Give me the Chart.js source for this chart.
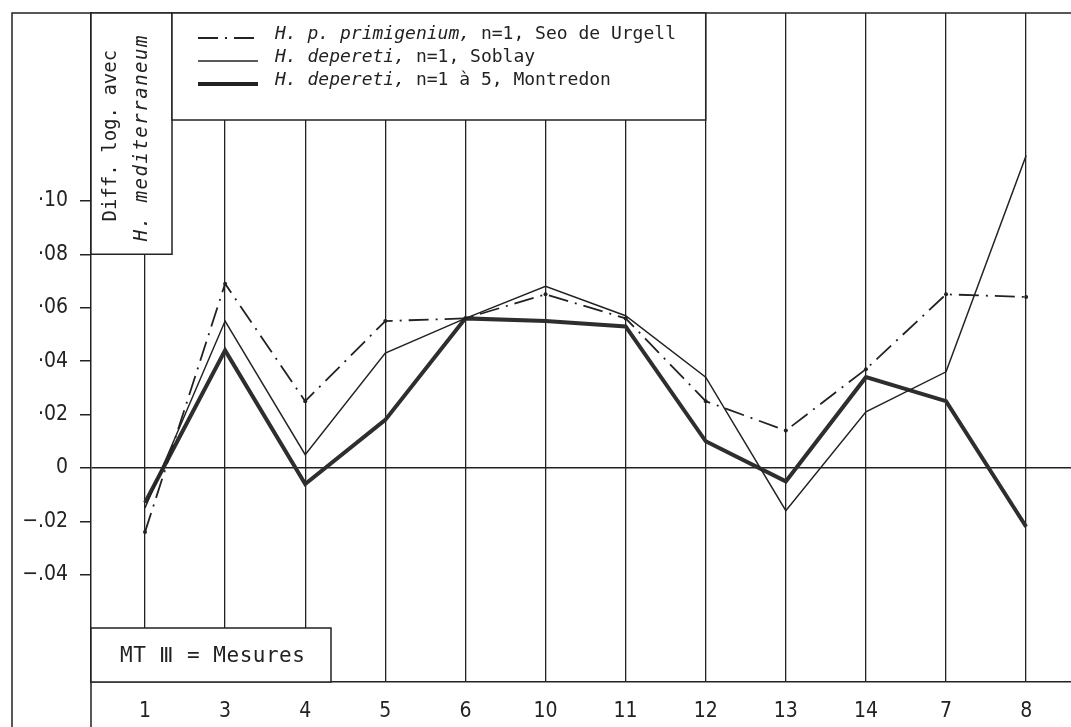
<!DOCTYPE html>
<html>
<head>
<meta charset="utf-8">
<script src="https://cdn.jsdelivr.net/npm/chart.js@4"></script>
<style>
  html, body { margin: 0; padding: 0; background: #fff; }
  #wrap { width: 1071px; height: 727px; }
</style>
</head>
<body>
<div id="wrap"><canvas id="chart" width="1071" height="727"></canvas></div>
<script>
// MT III measurements, in the order they are plotted
const categories = ['1', '3', '4', '5', '6', '10', '11', '12', '13', '14', '7', '8'];

// log difference against H. mediterraneum
const seoUrgell = [-0.024, 0.069, 0.025, 0.055, 0.056, 0.065, 0.056, 0.025, 0.014, 0.037, 0.065, 0.064];
const soblay = [-0.015, 0.055, 0.005, 0.043, 0.056, 0.068, 0.057, 0.034, -0.016, 0.021, 0.036, 0.117];
const montredon = [-0.013, 0.044, -0.006, 0.018, 0.056, 0.055, 0.053, 0.010, -0.005, 0.034, 0.025, -0.022];

const yTicks = [-0.04, -0.02, 0, 0.02, 0.04, 0.06, 0.08, 0.10];
const yTickLabels = ['\u2212.04', '\u2212.02', '0', '\u00b702', '\u00b704', '\u00b706', '\u00b708', '\u00b710'];

const seriesNames = ['Seo de Urgell', 'Soblay', 'Montredon'];

const INK = '#222';
const MONO = '"DejaVu Sans Mono"';
const NARROW = '"DejaVu Sans Condensed", "DejaVu Sans", sans-serif';

const toPoints = vals => vals.map((v, i) => ({ x: i, y: v }));

// boxes, frame and legend drawn on top of the grid
const decor = {
  id: 'decor',
  afterDraw(chart) {
    const ctx = chart.ctx;
    const xs = chart.scales.x, ys = chart.scales.y;
    const area = chart.chartArea;
    ctx.save();
    ctx.strokeStyle = INK;
    ctx.fillStyle = INK;
    ctx.lineWidth = 1.5;

    // outer frame
    ctx.beginPath();
    ctx.moveTo(12, 727); ctx.lineTo(12, area.top); ctx.lineTo(1071, area.top);
    ctx.moveTo(area.left, area.bottom); ctx.lineTo(area.left, 727);
    ctx.stroke();

    const box = (x1, y1, x2, y2) => {
      ctx.fillStyle = '#fff';
      ctx.fillRect(x1, y1, x2 - x1, y2 - y1);
      ctx.strokeRect(x1, y1, x2 - x1, y2 - y1);
      ctx.fillStyle = INK;
    };

    // y title box
    const yBoxBottom = ys.getPixelForValue(0.08);
    box(area.left, area.top, 172, yBoxBottom);
    ctx.textAlign = 'center';
    ctx.textBaseline = 'alphabetic';
    const midY = (area.top + yBoxBottom) / 2;
    ctx.save();
    ctx.translate(116, midY + 2);
    ctx.rotate(-Math.PI / 2);
    ctx.font = '19px ' + MONO;
    ctx.fillText('Diff. log. avec', 0, 0);
    ctx.restore();
    ctx.save();
    ctx.translate(147, midY + 4);
    ctx.rotate(-Math.PI / 2);
    ctx.font = 'italic 19px ' + MONO;
    ctx.letterSpacing = '1.5px';
    ctx.fillText('H. mediterraneum', 0, 0);
    ctx.restore();

    // legend box
    box(172, area.top, xs.getPixelForValue(7), 120);
    const rows = [
      { y: 34, it: 'H. p. primigenium,', rest: ' n=1, Seo de Urgell', w: 1.8, dash: [20, 7, 2, 7] },
      { y: 57, it: 'H. depereti,', rest: ' n=1, Soblay', w: 1.5, dash: [] },
      { y: 80, it: 'H. depereti,', rest: ' n=1 \u00e0 5, Montredon', w: 4, dash: [] }
    ];
    ctx.textAlign = 'left';
    ctx.textBaseline = 'middle';
    rows.forEach(r => {
      ctx.save();
      ctx.lineWidth = r.w;
      ctx.setLineDash(r.dash);
      ctx.beginPath();
      ctx.moveTo(198, r.y + 4); ctx.lineTo(258, r.y + 4);
      ctx.stroke();
      ctx.restore();
      ctx.font = 'italic 18px ' + MONO;
      ctx.fillText(r.it, 275, r.y);
      const w = ctx.measureText(r.it).width;
      ctx.font = '18px ' + MONO;
      ctx.fillText(r.rest, 275 + w, r.y);
    });

    // x title box
    box(area.left, 628, 331, area.bottom);
    ctx.font = '21px ' + MONO;
    ctx.textAlign = 'left';
    ctx.letterSpacing = '0.5px';
    ctx.fillText('MT \u2162 = Mesures', 120, 657);

    ctx.restore();
  }
};

new Chart(document.getElementById('chart'), {
  type: 'line',
  data: {
    datasets: [
      {
        label: seriesNames[0],
        data: toPoints(seoUrgell),
        borderColor: INK,
        borderWidth: 1.8,
        borderDash: [20, 7, 2, 7],
        pointRadius: 2,
        pointBackgroundColor: INK,
        pointBorderWidth: 0,
        tension: 0
      },
      {
        label: seriesNames[1],
        data: toPoints(soblay),
        borderColor: INK,
        borderWidth: 1.5,
        pointRadius: 0,
        tension: 0
      },
      {
        label: seriesNames[2],
        data: toPoints(montredon),
        borderColor: '#2e2e2e',
        borderWidth: 4,
        pointRadius: 0,
        tension: 0
      }
    ]
  },
  options: {
    responsive: false,
    devicePixelRatio: 1,
    animation: false,
    layout: { autoPadding: false, padding: { left: 0, top: 13, right: 0, bottom: 0 } },
    plugins: { legend: { display: false }, tooltip: { enabled: false } },
    scales: {
      x: {
        type: 'linear',
        min: -0.674,
        max: 11.56,
        afterBuildTicks: s => { s.ticks = categories.map((c, i) => ({ value: i })); },
        afterFit: s => { s.height = 45; s.paddingLeft = 0; s.paddingRight = 0; },
        ticks: {
          callback: (v) => categories[v],
          autoSkip: false,
          maxRotation: 0,
          padding: 17,
          color: INK,
          font: { family: NARROW, size: 21 }
        },
        grid: { color: INK, lineWidth: 1.3, drawTicks: false },
        border: { display: true, color: INK, width: 1.5 }
      },
      y: {
        min: -0.0801,
        max: 0.1703,
        afterBuildTicks: s => { s.ticks = yTicks.map(v => ({ value: v })); },
        afterFit: s => { s.width = 91; s.paddingTop = 0; s.paddingBottom = 0; },
        ticks: {
          callback: (v, i) => yTickLabels[i],
          padding: 12,
          color: INK,
          font: { family: NARROW, size: 21 }
        },
        grid: {
          color: c => (c.tick && c.tick.value === 0 ? INK : 'rgba(0,0,0,0)'),
          tickColor: INK,
          tickLength: 11,
          lineWidth: 1.5
        },
        border: { display: true, color: INK, width: 1.5 }
      }
    }
  },
  plugins: [decor]
});
</script>
</body>
</html>
